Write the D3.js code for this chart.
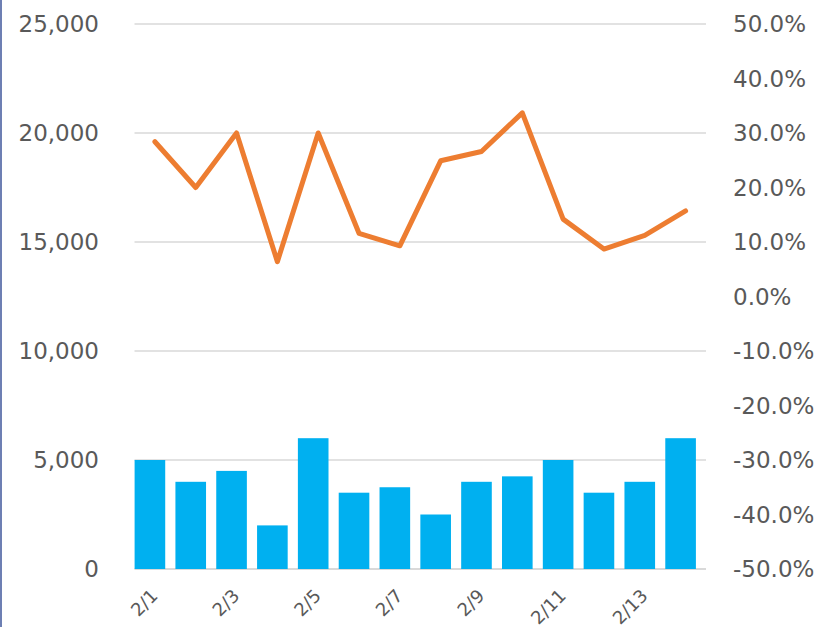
<!DOCTYPE html>
<html><head><meta charset="utf-8">
<script src="https://cdn.jsdelivr.net/npm/d3@7"></script>
<style>html,body{margin:0;padding:0;background:#fff;}svg{display:block;}</style>
</head><body>
<script>
const categories = ["2/1","2/2","2/3","2/4","2/5","2/6","2/7","2/8","2/9","2/10","2/11","2/12","2/13","2/14"];
const barValues = [5000,4000,4500,2000,6000,3500,3750,2500,4000,4250,5000,3500,4000,6000];
const lineValues = [0.284,0.20,0.30,0.064,0.30,0.116,0.093,0.249,0.266,0.337,0.142,0.087,0.112,0.157];
const leftTicks = [0,5000,10000,15000,20000,25000];
const rightTicks = [-0.5,-0.4,-0.3,-0.2,-0.1,0,0.1,0.2,0.3,0.4,0.5];
const xLabelShown = ["2/1","2/3","2/5","2/7","2/9","2/11","2/13"];

const W = 823, H = 627;
const svg = d3.select("body").append("svg").attr("width", W).attr("height", H);
const font = "'DejaVu Sans', Verdana, sans-serif";
const loc = d3.formatLocale({decimal: ".", thousands: ",", grouping: [3], currency: ["", ""], minus: "-", percent: "%"});

// left border line
svg.append("line").attr("x1",1).attr("x2",1).attr("y1",0).attr("y2",H)
  .attr("stroke","#6d7fb3").attr("stroke-width",2);

const plotL = 134.5, plotR = 706, plotTop = 24, plotBottom = 569;
const yL = d3.scaleLinear().domain([0,25000]).range([plotBottom, plotTop]);
const yR = d3.scaleLinear().domain([-0.5,0.5]).range([plotBottom, plotTop]);
const xLine = d3.scalePoint().domain(categories).range([plotL, plotR]).padding(0.5);
const xBar = d3.scaleBand().domain(categories).range([plotL - 5, plotR - 5]).paddingInner(0.25).paddingOuter(0.125);

// gridlines
svg.append("g").selectAll("line").data(leftTicks).join("line")
  .attr("x1", plotL).attr("x2", plotR)
  .attr("y1", d => yL(d)).attr("y2", d => yL(d))
  .attr("stroke", "#d9d9d9").attr("stroke-width", d => d === 0 ? 2 : 1.5);

// bars
svg.append("g").selectAll("rect").data(categories).join("rect")
  .attr("x", d => xBar(d))
  .attr("width", xBar.bandwidth())
  .attr("y", (d,i) => yL(barValues[i]))
  .attr("height", (d,i) => yL(0) - yL(barValues[i]))
  .attr("fill", "#00b0f0");

// line
const line = d3.line().x((d,i) => xLine(categories[i])).y(d => yR(d));
svg.append("path").datum(lineValues).attr("d", line)
  .attr("fill","none").attr("stroke","#ed7d31").attr("stroke-width",5)
  .attr("stroke-linejoin","round").attr("stroke-linecap","round");

// left axis labels
const fmtL = loc.format(",");
svg.append("g").selectAll("text").data(leftTicks).join("text")
  .attr("x", 99).attr("y", d => yL(d)).attr("dy","0.36em")
  .attr("text-anchor","end").attr("font-family",font).attr("font-size",23)
  .attr("fill","#595959").text(d => fmtL(d));

// right axis labels
const fmtR = loc.format(".1%");
svg.append("g").selectAll("text").data(rightTicks).join("text")
  .attr("x", 733).attr("y", d => yR(d)).attr("dy","0.36em")
  .attr("text-anchor","start").attr("font-family",font).attr("font-size",23)
  .attr("fill","#595959").text(d => fmtR(d));

// x labels
svg.append("g").selectAll("text").data(xLabelShown).join("text")
  .attr("transform", d => `translate(${xLine(d)+4},${597}) rotate(-45)`)
  .attr("text-anchor","end").attr("font-family",font).attr("font-size",18)
  .attr("fill","#595959").text(d => d);
</script>
</body></html>
